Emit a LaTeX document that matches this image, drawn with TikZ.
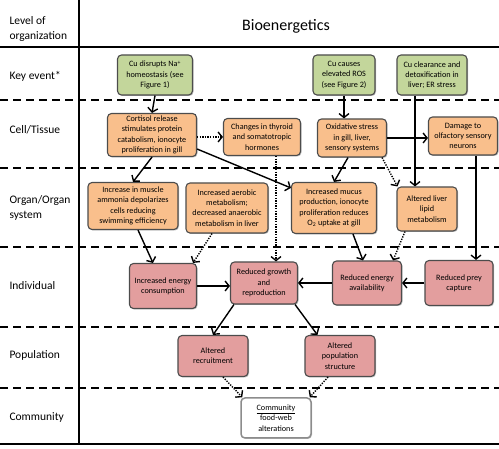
\documentclass[tikz,border=0pt]{standalone}
\usepackage{fontspec}
\setmainfont{Carlito}
\usetikzlibrary{arrows.meta,shadows}

\definecolor{keygreen}{HTML}{C3D69B}
\definecolor{cellorange}{HTML}{F9BF8C}
\definecolor{indred}{HTML}{E39E9E}

\begin{document}
\begin{tikzpicture}[x=1pt, y=-1pt,
  box/.style={draw=black!70, line width=1.1pt, rounded corners=4pt, align=center, inner sep=1pt,
    font=\fontsize{8.2}{10.3}\selectfont, drop shadow={shadow xshift=1pt, shadow yshift=-1pt, opacity=0.5}},
  keybox/.style={box, fill=keygreen},
  cellbox/.style={box, fill=cellorange},
  indbox/.style={box, fill=indred},
  commbox/.style={box, fill=white, draw=black!45, line width=1.5pt},
  level/.style={anchor=west, align=left, font=\fontsize{11.5}{15}\selectfont},
  sep/.style={dash pattern=on 8pt off 5pt, line width=1.4pt},
  link/.style={-{Straight Barb[length=4pt,width=10pt]}, line width=1.4pt},
  dotlink/.style={link, dash pattern=on 1.3pt off 1.3pt}]
\useasboundingbox (0,0) rectangle (499,449);

% frame of the table
\draw[line width=1.6pt] (79,0) -- (79,445);
\draw[line width=2pt] (0,47) -- (499,47);
\draw[line width=2pt] (0,444) -- (499,444);
\foreach \y in {100,168,247,327,388}
  \draw[sep] (0,\y) -- (499,\y);

% levels
\node[level] (lvl) at (6,29) {Level of\\organization};
\node[level] (lkey) at (6,76) {Key event*};
\node[level] (lcell) at (6,130) {Cell/Tissue};
\node[level] (lorgan) at (6,208) {Organ/Organ\\system};
\node[level] (lind) at (6,286) {Individual};
\node[level] (lpop) at (6,355) {Population};
\node[level] (lcomm) at (6,417) {Community};
\node[font=\fontsize{16}{18}\selectfont] (title) at (286,26) {Bioenergetics};

% key events
\node[keybox, minimum width=75pt, minimum height=40pt] (G1) at (155,75) {Cu disrupts Na\textsuperscript{+}\\homeostasis (see\\Figure 1)};
\node[keybox, minimum width=62pt, minimum height=40pt] (G2) at (344,75) {Cu causes\\elevated ROS\\(see Figure 2)};
\node[keybox, minimum width=70pt, minimum height=40pt] (G3) at (432,75) {Cu clearance and\\detoxification in\\liver; ER stress};

% cell/tissue
\node[cellbox, minimum width=89pt, minimum height=43pt] (O1) at (152,135) {Cortisol release\\stimulates protein\\catabolism, ionocyte\\proliferation in gill};
\node[cellbox, minimum width=77pt, minimum height=37pt] (O2) at (262,137) {Changes in thyroid\\and somatotropic\\hormones};
\node[cellbox, minimum width=69pt, minimum height=38pt] (O3) at (352,138) {Oxidative stress\\in gill, liver,\\sensory systems};
\node[cellbox, minimum width=69pt, minimum height=38pt] (O4) at (463,136) {Damage to\\olfactory sensory\\neurons};

% organ/organ system
\node[cellbox, minimum width=90pt, minimum height=47pt] (O5) at (133,206) {Increase in muscle\\ammonia depolarizes\\cells reducing\\swimming efficiency};
\node[cellbox, minimum width=82pt, minimum height=50pt] (O6) at (227,208) {Increased aerobic\\metabolism;\\decreased anaerobic\\metabolism in liver};
\node[cellbox, minimum width=85pt, minimum height=51pt] (O7) at (334,208) {Increased mucus\\production, ionocyte\\proliferation reduces\\O\textsubscript{2} uptake at gill};
\node[cellbox, minimum width=60pt, minimum height=44pt] (O8) at (427,209) {Altered liver\\lipid\\metabolism};

% individual
\node[indbox, minimum width=67pt, minimum height=45pt] (R1) at (163,286) {Increased energy\\consumption};
\node[indbox, minimum width=67pt, minimum height=42pt] (R2) at (264,283) {Reduced growth\\and\\reproduction};
\node[indbox, minimum width=69pt, minimum height=44pt] (R3) at (367,283) {Reduced energy\\availability};
\node[indbox, minimum width=68pt, minimum height=45pt] (R4) at (459,283) {Reduced prey\\capture};

% population and community
\node[indbox, minimum width=70pt, minimum height=41pt] (P1) at (213,356) {Altered\\recruitment};
\node[indbox, minimum width=70pt, minimum height=41pt] (P2) at (340,356) {Altered\\population\\structure};
\node[commbox, minimum width=70pt, minimum height=40pt] (C1) at (276,418) {\underline{Community}\\food-web\\alterations};

% links
\draw[link] (G1.south) -- (O1.north);
\draw[link] (G2.south) -- (G2.south |- O3.north);
\draw[link] ([xshift=-17pt]G3.south) -- ([xshift=-17pt]G3.south |- O8.north);
\draw[dotlink] (O1.east |- O2.west) -- (O2.west);
\draw[link] (O1.south) -- (O5.north);
\draw[link] ([yshift=-14pt]O1.east) -- ([yshift=-6pt]O7.north west);
\draw[dotlink] ([xshift=14pt]O2.south) -- ([xshift=12pt]R2.north);
\draw[link] (O3.east) -- (O3.east -| O4.west);
\draw[link] ([xshift=-4pt]O3.south) -- (O7.north);
\draw[dotlink] ([xshift=-5pt]O3.south east) -- ([xshift=1pt]O8.north west);
\draw[link] ([xshift=13pt]O4.south) -- ([xshift=13pt]O4.south |- R4.north);
\draw[link] ([xshift=5pt]O5.south) -- ([xshift=-10pt]R1.north);
\draw[dotlink] ([xshift=-15pt]O6.south) -- ([xshift=-4pt]R1.north east);
\draw[link] ([xshift=19pt]O7.south) -- ([xshift=-4pt]R3.north);
\draw[dotlink] ([xshift=-22pt]O8.south) -- ([xshift=-9pt]R3.north east);
\draw[link] (R1.east) -- (R1.east -| R2.west);
\draw[link] (R3.west) -- (R3.west -| R2.east);
\draw[link] (R4.west) -- (R4.west -| R3.east);
\draw[link] ([xshift=4pt]R2.south west) -- (P1.north);
\draw[link] ([xshift=-3pt]R2.south east) -- ([xshift=13pt]P2.north west);
\draw[dotlink] ([xshift=10pt]P1.south) -- ([xshift=2pt]C1.north west);
\draw[dotlink] ([xshift=-12pt]P2.south) -- ([xshift=-2pt]C1.north east);
\end{tikzpicture}
\end{document}
